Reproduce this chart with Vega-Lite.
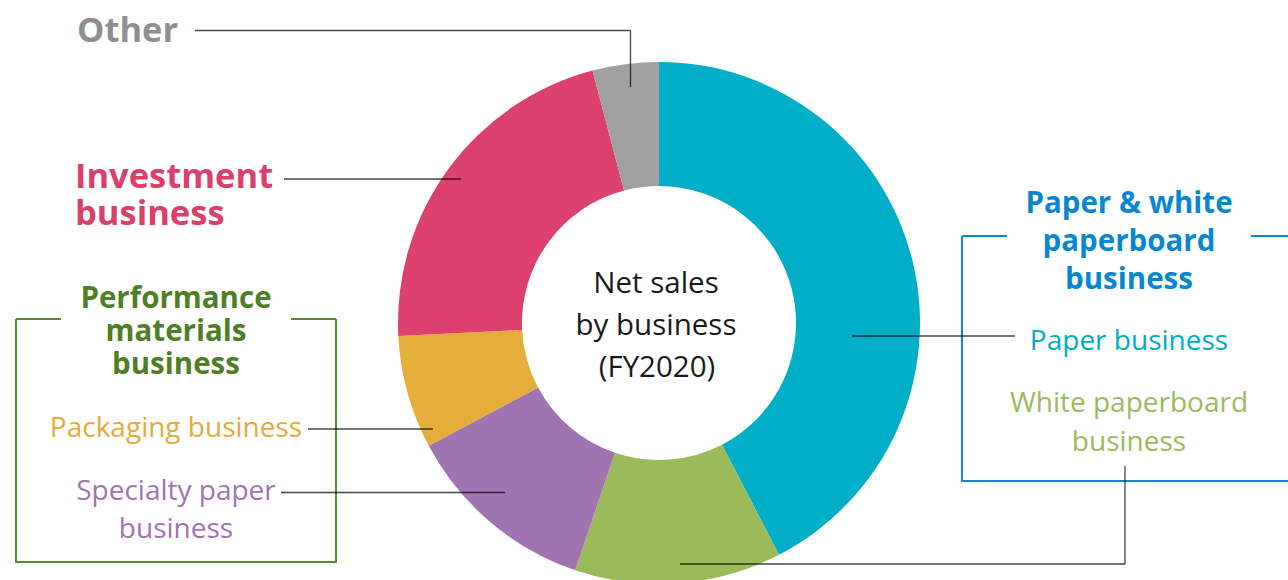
{
  "$schema": "https://vega.github.io/schema/vega-lite/v6.json",
  "width": 1288,
  "height": 580,
  "padding": 0,
  "autosize": {"type": "none"},
  "background": "white",
  "config": {"view": {"stroke": null}},
  "datasets": {
    "segments": [
      {"business": "Paper business", "share": 42.4, "order": 1},
      {"business": "White paperboard business", "share": 12.8, "order": 2},
      {"business": "Specialty paper business", "share": 12.0, "order": 3},
      {"business": "Packaging business", "share": 7.0, "order": 4},
      {"business": "Investment business", "share": 21.7, "order": 5},
      {"business": "Other", "share": 4.1, "order": 6}
    ],
    "labels": [
      {"business": "Other", "kind": "segment", "text": "Other", "x": 77, "y": 42},
      {"business": "Investment business", "kind": "segment", "text": "Investment", "x": 75, "y": 188},
      {"business": "Investment business", "kind": "segment", "text": "business", "x": 75, "y": 225},
      {"business": "Performance materials business", "kind": "group", "text": "Performance", "x": 176, "y": 308},
      {"business": "Performance materials business", "kind": "group", "text": "materials", "x": 176, "y": 341},
      {"business": "Performance materials business", "kind": "group", "text": "business", "x": 176, "y": 374},
      {"business": "Packaging business", "kind": "segment", "text": "Packaging business", "x": 176, "y": 437},
      {"business": "Specialty paper business", "kind": "segment", "text": "Specialty paper", "x": 176, "y": 500},
      {"business": "Specialty paper business", "kind": "segment", "text": "business", "x": 176, "y": 538},
      {"business": "Paper & white paperboard business", "kind": "group", "text": "Paper & white", "x": 1129, "y": 213},
      {"business": "Paper & white paperboard business", "kind": "group", "text": "paperboard", "x": 1129, "y": 251},
      {"business": "Paper & white paperboard business", "kind": "group", "text": "business", "x": 1129, "y": 289},
      {"business": "Paper business", "kind": "segment", "text": "Paper business", "x": 1129, "y": 350},
      {"business": "White paperboard business", "kind": "segment", "text": "White paperboard", "x": 1129, "y": 412},
      {"business": "White paperboard business", "kind": "segment", "text": "business", "x": 1129, "y": 451},
      {"business": "Net sales by business", "kind": "title", "text": "Net sales", "x": 656, "y": 293},
      {"business": "Net sales by business", "kind": "title", "text": "by business", "x": 656, "y": 335},
      {"business": "Net sales by business", "kind": "title", "text": "(FY2020)", "x": 657, "y": 377}
    ],
    "connectors": [
      {"business": "Other", "x": 195, "y": 30.5, "x2": 630.5, "y2": 30.5},
      {"business": "Other", "x": 630.5, "y": 30.5, "x2": 630.5, "y2": 87},
      {"business": "Investment business", "x": 284, "y": 179, "x2": 461, "y2": 179},
      {"business": "Packaging business", "x": 308, "y": 429, "x2": 433, "y2": 429},
      {"business": "Specialty paper business", "x": 281, "y": 492.5, "x2": 505, "y2": 492.5},
      {"business": "Paper business", "x": 852, "y": 336, "x2": 1015, "y2": 336},
      {"business": "White paperboard business", "x": 1125, "y": 466, "x2": 1125, "y2": 564},
      {"business": "White paperboard business", "x": 1125, "y": 564, "x2": 680, "y2": 564}
    ],
    "brackets": [
      {"group": "Performance materials business", "x": 16, "y": 319, "x2": 61, "y2": 319},
      {"group": "Performance materials business", "x": 291, "y": 319, "x2": 336, "y2": 319},
      {"group": "Performance materials business", "x": 16, "y": 319, "x2": 16, "y2": 562},
      {"group": "Performance materials business", "x": 336, "y": 319, "x2": 336, "y2": 562},
      {"group": "Performance materials business", "x": 15, "y": 562, "x2": 337, "y2": 562},
      {"group": "Paper & white paperboard business", "x": 962, "y": 236, "x2": 1007, "y2": 236},
      {"group": "Paper & white paperboard business", "x": 1251, "y": 236, "x2": 1288, "y2": 236},
      {"group": "Paper & white paperboard business", "x": 962, "y": 236, "x2": 962, "y2": 481},
      {"group": "Paper & white paperboard business", "x": 961, "y": 481, "x2": 1288, "y2": 481}
    ]
  },
  "resolve": {"scale": {"color": "independent"}},
  "layer": [
    {
      "data": {"name": "segments"},
      "mark": {"type": "arc", "innerRadius": 137, "outerRadius": 261},
      "encoding": {
        "x": {"datum": 659, "type": "quantitative", "scale": {"domain": [0, 1288], "nice": false, "zero": false}, "axis": null},
        "y": {"datum": 323, "type": "quantitative", "scale": {"domain": [0, 580], "nice": false, "zero": false, "reverse": true}, "axis": null},
        "theta": {"field": "share", "type": "quantitative", "stack": true},
        "order": {"field": "order", "type": "quantitative"},
        "color": {
          "field": "business", "type": "nominal", "legend": null,
          "scale": {
            "domain": ["Paper business", "White paperboard business", "Specialty paper business", "Packaging business", "Investment business", "Other"],
            "range": ["#00AEC7", "#9BBB5A", "#A074B0", "#E5AD3A", "#DB416C", "#A0A0A0"]
          }
        }
      }
    },
    {
      "data": {"name": "brackets"},
      "mark": {"type": "rule", "strokeWidth": 2},
      "encoding": {
        "x": {"field": "x", "type": "quantitative", "axis": null},
        "y": {"field": "y", "type": "quantitative", "axis": null},
        "x2": {"field": "x2"},
        "y2": {"field": "y2"},
        "color": {
          "field": "group", "type": "nominal", "legend": null,
          "scale": {"domain": ["Performance materials business", "Paper & white paperboard business"], "range": ["#5A8A2A", "#0A8AD6"]}
        }
      }
    },
    {
      "data": {"name": "connectors"},
      "mark": {"type": "rule", "strokeWidth": 1.3, "color": "#000000", "strokeOpacity": 0.72},
      "encoding": {
        "x": {"field": "x", "type": "quantitative", "axis": null},
        "y": {"field": "y", "type": "quantitative", "axis": null},
        "x2": {"field": "x2"},
        "y2": {"field": "y2"}
      }
    },
    {
      "data": {"name": "labels"},
      "transform": [{"filter": "datum.business === 'Other' || datum.business === 'Investment business'"}],
      "mark": {"type": "text", "font": "Open Sans", "fontWeight": "bold", "fontSize": 34.5, "align": "left", "baseline": "alphabetic"},
      "encoding": {
        "x": {"field": "x", "type": "quantitative", "axis": null},
        "y": {"field": "y", "type": "quantitative", "axis": null},
        "text": {"field": "text"},
        "color": {
          "field": "business", "type": "nominal", "legend": null,
          "scale": {"domain": ["Other", "Investment business"], "range": ["#8F8F8F", "#DB3F6B"]}
        }
      }
    },
    {
      "data": {"name": "labels"},
      "transform": [{"filter": "datum.kind === 'group'"}],
      "mark": {"type": "text", "font": "Open Sans", "fontWeight": "bold", "fontSize": 29.5, "align": "center", "baseline": "alphabetic"},
      "encoding": {
        "x": {"field": "x", "type": "quantitative", "axis": null},
        "y": {"field": "y", "type": "quantitative", "axis": null},
        "text": {"field": "text"},
        "color": {
          "field": "business", "type": "nominal", "legend": null,
          "scale": {"domain": ["Performance materials business", "Paper & white paperboard business"], "range": ["#4F7F24", "#0787D0"]}
        }
      }
    },
    {
      "data": {"name": "labels"},
      "transform": [{"filter": "datum.kind === 'segment' && datum.business !== 'Other' && datum.business !== 'Investment business'"}],
      "mark": {"type": "text", "font": "Open Sans", "fontSize": 28, "align": "center", "baseline": "alphabetic"},
      "encoding": {
        "x": {"field": "x", "type": "quantitative", "axis": null},
        "y": {"field": "y", "type": "quantitative", "axis": null},
        "text": {"field": "text"},
        "color": {
          "field": "business", "type": "nominal", "legend": null,
          "scale": {
            "domain": ["Packaging business", "Specialty paper business", "Paper business", "White paperboard business"],
            "range": ["#E5AA3A", "#A074B0", "#00AEC6", "#98BB5C"]
          }
        }
      }
    },
    {
      "data": {"name": "labels"},
      "transform": [{"filter": "datum.kind === 'title'"}],
      "mark": {"type": "text", "font": "Open Sans", "fontSize": 29.5, "align": "center", "baseline": "alphabetic", "color": "#1A1A1A"},
      "encoding": {
        "x": {"field": "x", "type": "quantitative", "axis": null},
        "y": {"field": "y", "type": "quantitative", "axis": null},
        "text": {"field": "text"}
      }
    }
  ]
}
